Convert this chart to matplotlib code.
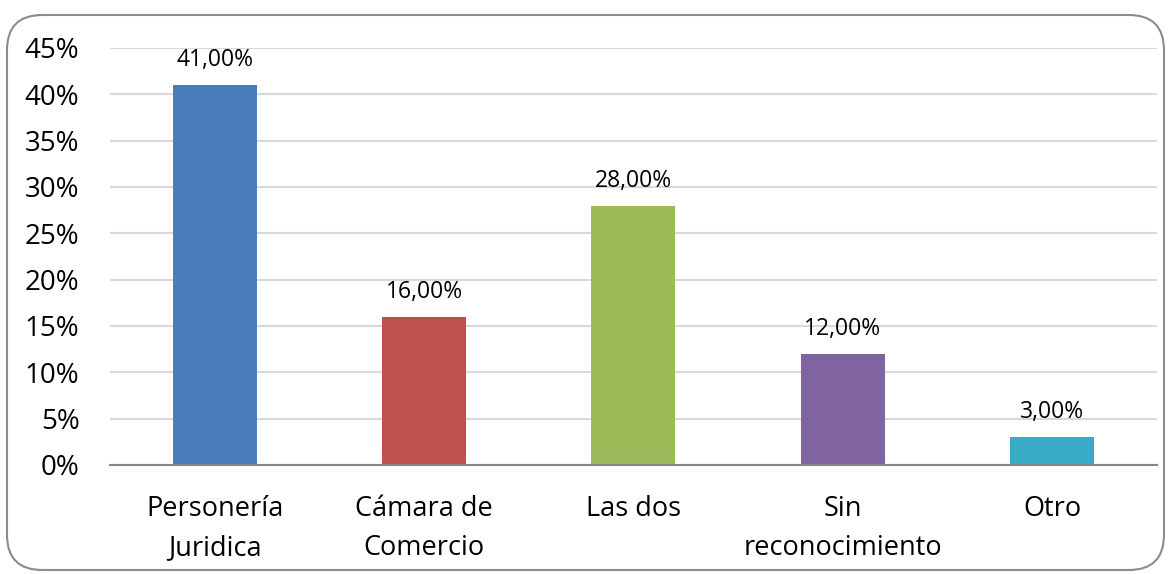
import matplotlib.pyplot as plt
from matplotlib.patches import FancyBboxPatch

categories = ['Personería\nJuridica', 'Cámara de\nComercio', 'Las dos', 'Sin\nreconocimiento', 'Otro']
values = [41, 16, 28, 12, 3]
labels = ['41,00%', '16,00%', '28,00%', '12,00%', '3,00%']
colors = ['#4A7EBB', '#C0504D', '#9BBB59', '#8064A2', '#38ACC6']

plt.rcParams['font.family'] = ['Open Sans', 'DejaVu Sans']

fig = plt.figure(figsize=(11.72, 5.74), dpi=100)
ax = fig.add_axes([0.0939, 0.190, 0.893, 0.7264])

x = range(len(categories))
bars = ax.bar(x, values, width=0.4, color=colors, zorder=3)

for b, lab in zip(bars, labels):
    ax.annotate(lab, (b.get_x() + b.get_width() / 2, b.get_height()),
                xytext=(0, 18), textcoords='offset points',
                ha='center', va='center', fontsize=16.5, color='#000000')

ax.set_xlim(-0.5, len(categories) - 0.5)
ax.set_ylim(0, 45)
ax.set_yticks(range(0, 46, 5))
ax.set_yticklabels([f'{v}%' for v in range(0, 46, 5)], fontsize=20)
ax.set_xticks(list(x))
ax.set_xticklabels(categories, fontsize=19.5, linespacing=1.5)
ax.tick_params(axis='both', length=0)
ax.tick_params(axis='x', pad=22)
ax.tick_params(axis='y', pad=22)

ax.grid(axis='y', color='#D9D9D9', linewidth=1.5, zorder=0)
for s in ['top', 'right', 'left']:
    ax.spines[s].set_visible(False)
ax.spines['bottom'].set_color('#868686')
ax.spines['bottom'].set_linewidth(1.5)
ax.spines['bottom'].set_zorder(4)

border = FancyBboxPatch((7 / 1172, 4 / 574), 1157 / 1172, 555 / 574,
                        boxstyle='round,pad=0,rounding_size=0.03',
                        transform=fig.transFigure, fill=False,
                        edgecolor='#8C8C8C', linewidth=1.5,
                        mutation_aspect=1172 / 574)
fig.patches.append(border)

fig.savefig('out.png', dpi=100)
